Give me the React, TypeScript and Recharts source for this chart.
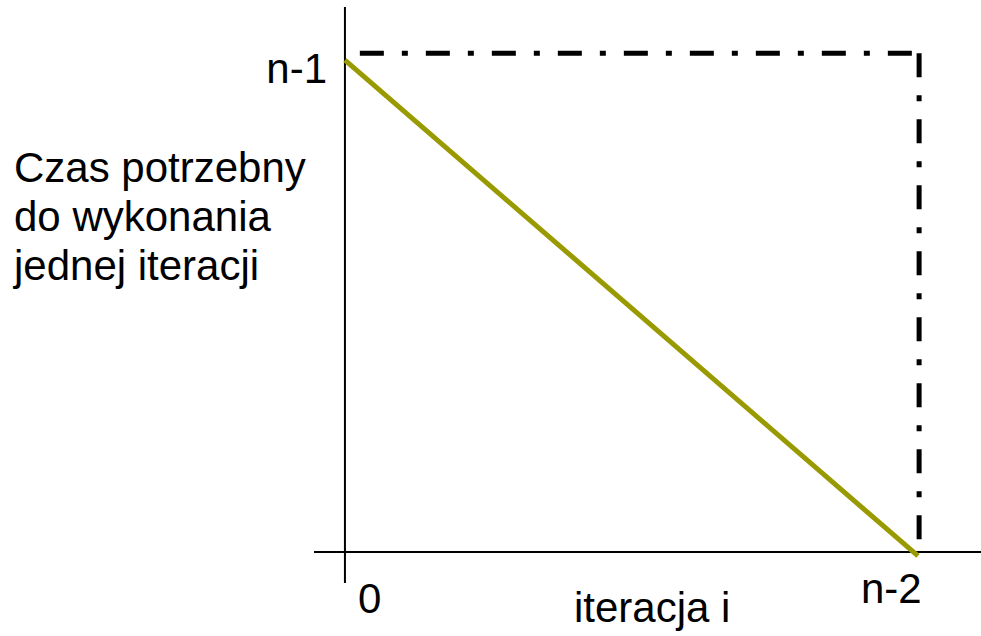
import React from 'react';
import { LineChart, Line, XAxis, YAxis, ReferenceLine, Label } from 'recharts';

// categories / tick labels
const xTicks = [0, 1];
const xTickLabels = ['0', 'n-2'];
const yTicks = [1];
const yTickLabels = ['n-1'];
const yTitleLines = ['Czas potrzebny', 'do wykonania', 'jednej iteracji'];
const xTitle = 'iteracja i';

// series values (x: iteration 0..n-2 normalised, y: time normalised 0..n-1)
const timeSeries = [
  { x: 0, y: 1 },
  { x: 1, y: -0.008 },
];
const boundTop = [
  { x: 0.026, y: 1.014 },
  { x: 1.0, y: 1.014 },
];
const boundRight = [
  { x: 1.002, y: 1.014 },
  { x: 1.002, y: 0 },
];

const FONT = '"Liberation Sans", Arial, sans-serif';
const FS = 42;
const OLIVE = '#999900';

const XTick = (props: any) => {
  const { x, y, payload } = props;
  const i = xTicks.indexOf(payload.value);
  const cfg = i === 0 ? { dx: 13, dy: 30 } : { dx: -57, dy: 20 };
  return (
    <text x={x + cfg.dx} y={y + cfg.dy} textAnchor="start" fontSize={FS} fontFamily={FONT} fill="#000">
      {xTickLabels[i]}
    </text>
  );
};

const YTick = (props: any) => {
  const { x, y, payload } = props;
  const i = yTicks.indexOf(payload.value);
  return (
    <text x={x + 13} y={y + 23} textAnchor="end" fontSize={FS} fontFamily={FONT} fill="#000">
      {yTickLabels[i]}
    </text>
  );
};

const YTitle = (props: any) => {
  const { viewBox } = props;
  const x0 = viewBox.x - 299;
  return (
    <text x={x0} y={182} fontSize={FS} fontFamily={FONT} fill="#000">
      {yTitleLines.map((t, k) => (
        <tspan key={k} x={x0} dy={k === 0 ? 0 : 49}>
          {t}
        </tspan>
      ))}
    </text>
  );
};

const XTitle = (props: any) => {
  const { viewBox } = props;
  return (
    <text x={viewBox.x + 260} y={viewBox.y + 39} fontSize={FS} fontFamily={FONT} fill="#000">
      {xTitle}
    </text>
  );
};

export default function App() {
  return (
    <div style={{ position: 'absolute', left: 0, top: 0, width: 981, height: 636, background: '#fff' }}>
      <LineChart width={981} height={636} margin={{ top: 7, right: 0, bottom: 52, left: 313 }}>
        <XAxis
          type="number"
          dataKey="x"
          domain={[-0.054, 1.11]}
          ticks={xTicks}
          interval={0}
          axisLine={false}
          tickLine={false}
          tickSize={0}
          tickMargin={0}
          height={1}
          tick={<XTick />}
          allowDataOverflow
        >
          <Label content={<XTitle />} />
        </XAxis>
        <YAxis
          type="number"
          dataKey="y"
          domain={[-0.063, 1.108]}
          ticks={yTicks}
          interval={0}
          axisLine={false}
          tickLine={false}
          tickSize={0}
          tickMargin={0}
          width={1}
          tick={<YTick />}
          allowDataOverflow
        >
          <Label content={<YTitle />} />
        </YAxis>
        <ReferenceLine x={0} stroke="#000" strokeWidth={2} />
        <ReferenceLine y={0} stroke="#000" strokeWidth={2} />
        <Line
          data={boundTop}
          dataKey="y"
          stroke="#000"
          strokeWidth={5}
          strokeDasharray="24 18 6 18"
          dot={false}
          activeDot={false}
          isAnimationActive={false}
          strokeLinecap="butt"
        />
        <Line
          data={boundRight}
          dataKey="y"
          stroke="#000"
          strokeWidth={5}
          strokeDasharray="24 18 6 18"
          dot={false}
          activeDot={false}
          isAnimationActive={false}
          strokeLinecap="butt"
        />
        <Line
          data={timeSeries}
          dataKey="y"
          stroke={OLIVE}
          strokeWidth={5}
          dot={false}
          activeDot={false}
          isAnimationActive={false}
          strokeLinecap="butt"
        />
      </LineChart>
    </div>
  );
}
